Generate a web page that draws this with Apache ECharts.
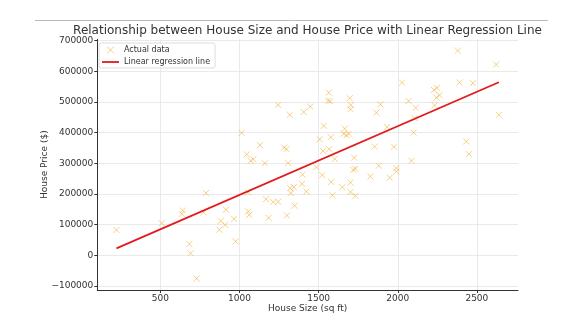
<!DOCTYPE html>
<html>
<head>
<meta charset="utf-8">
<script src="https://cdn.jsdelivr.net/npm/echarts@6/dist/echarts.min.js"></script>
<style>
html,body{margin:0;padding:0;background:#fff;}
#chart{width:584px;height:322px;}
</style>
</head>
<body>
<div id="chart"></div>
<script>
// House size (sq ft) of each actual data point
const sizes = [222, 508, 641, 635, 788, 773, 683, 691, 729, 914, 881, 872, 910, 965, 975,
  1053, 1055, 1061, 1167, 1184, 1213, 1244, 1299, 1320, 1343, 1324, 1348, 1395, 1398, 1423,
  1070, 1087, 1160, 1307, 1486, 1522, 1579, 1587, 1650, 1701, 1701, 1732, 1718, 1732, 1827,
  1880, 1949, 1991, 1991, 1013, 1244, 1318, 1406, 1447, 1564, 1560, 1572, 1697, 1703, 1701,
  1890, 1865, 1532, 1665, 1657, 1676, 1690, 1507, 1577, 1129, 1045, 1282, 1297, 1528, 1566,
  1602, 1724, 1854, 2380, 2622, 2639, 2433, 2450, 2027, 2391, 2475, 2229, 2248, 2244, 2264,
  2233, 2069, 2113, 2107, 1932, 2100, 1976, 2086];
// House price ($) of each actual data point
const prices = [82600, 105000, 146000, 135000, 203000, 140000, 37000, 6500, -75800, 148600, 112000, 83600, 98900, 119000, 45500,
  205000, 143000, 132000, 183000, 122000, 173600, 174600, 130000, 219000, 222000, 203000, 161600, 233000, 263000, 208000,
  308000, 313000, 300000, 300000, 287000, 261000, 239000, 196000, 222000, 237000, 206000, 194000, 279000, 282000, 257000,
  292000, 253000, 284000, 273000, 399000, 490000, 458000, 467000, 485000, 530000, 504000, 502000, 512000, 490000, 476000,
  492000, 465000, 422000, 413000, 396000, 392000, 396000, 378000, 385000, 359000, 329000, 351000, 346000, 340000, 346000,
  314000, 318000, 354000, 667000, 622000, 458000, 371000, 330000, 563000, 563000, 561000, 539000, 546000, 514000, 522000,
  489000, 503000, 481000, 447000, 418000, 400000, 354000, 308000];
// Regression line end points
const lineSizes = [222, 2639];
const linePrices = [22800, 564000];
// Tick labels
const xTicks = [500, 1000, 1500, 2000, 2500];
const yTicks = [-100000, 0, 100000, 200000, 300000, 400000, 500000, 600000, 700000];

const chart = echarts.init(document.getElementById('chart'), null, {renderer: 'canvas'});
const FONT = 'DejaVu Sans';
const TXT = '#333333';
const ORANGE = 'rgba(240,165,30,0.65)';
const RED = '#e31a1c';
const xMark = 'path://M0,0L10,10M10,0L0,10';
const fmt = v => (v < 0 ? '\u2212' + String(-v) : String(v));

const option = {
  backgroundColor: '#ffffff',
  animation: false,
  textStyle: {fontFamily: FONT},
  graphic: [
    {type: 'line', shape: {x1: 35, y1: 20.5, x2: 548, y2: 20.5}, style: {stroke: '#bbbbbb', lineWidth: 1}, silent: true},
    {type: 'text', x: 307.5, y: 25, style: {text: 'Relationship between House Size and House Price with Linear Regression Line',
      fill: TXT, font: '12px "DejaVu Sans"', textAlign: 'center', textVerticalAlign: 'top'}}
  ],
  legend: {
    left: 99, top: 43, orient: 'vertical',
    backgroundColor: 'rgba(255,255,255,0.85)', borderColor: '#dddddd', borderWidth: 1, borderRadius: 2,
    padding: [2, 5, 1, 3], itemGap: 2, itemWidth: 17, itemHeight: 7,
    textStyle: {fontFamily: FONT, fontSize: 8, color: TXT, lineHeight: 10},
    data: [
      {name: 'Actual data', icon: xMark, itemStyle: {color: 'transparent', borderColor: ORANGE, borderWidth: 1}},
      {name: 'Linear regression line', icon: 'path://M0,0H17V1.8H0Z', itemStyle: {color: RED, borderWidth: 0}}
    ]
  },
  grid: {left: 97.3, right: 66, top: 39.3, bottom: 32, containLabel: false},
  xAxis: {
    type: 'value', min: 101, max: 2760,
    name: 'House Size (sq ft)', nameLocation: 'middle', nameGap: 14, nameMoveOverlap: false,
    nameTextStyle: {fontFamily: FONT, fontSize: 9, color: TXT},
    axisLine: {show: true, onZero: false, lineStyle: {color: '#333333', width: 1}},
    axisTick: {show: true, length: 3, customValues: xTicks, lineStyle: {color: '#333333'}},
    axisLabel: {customValues: xTicks, formatter: fmt, fontFamily: FONT, fontSize: 9, color: TXT, margin: 4},
    splitLine: {show: true, lineStyle: {color: '#e5e5e5', width: 0.8}}
  },
  yAxis: {
    type: 'value', min: -113000, max: 704000,
    name: 'House Price ($)', nameLocation: 'middle', nameGap: 48, nameMoveOverlap: false,
    nameTextStyle: {fontFamily: FONT, fontSize: 9, color: TXT},
    axisLine: {show: true, onZero: false, lineStyle: {color: '#333333', width: 1}},
    axisTick: {show: true, length: 3, customValues: yTicks, lineStyle: {color: '#333333'}},
    axisLabel: {customValues: yTicks, formatter: fmt, fontFamily: FONT, fontSize: 9, color: TXT, margin: 4},
    splitLine: {show: true, lineStyle: {color: '#e5e5e5', width: 0.8}}
  },
  series: [
    {
      name: 'Actual data', type: 'scatter', symbol: xMark, symbolSize: 6,
      itemStyle: {color: 'transparent', borderColor: ORANGE, borderWidth: 1},
      data: sizes.map((s, i) => [s, prices[i]]), z: 2
    },
    {
      name: 'Linear regression line', type: 'line', symbol: 'none', showSymbol: false,
      lineStyle: {color: RED, width: 1.8}, itemStyle: {color: RED},
      data: lineSizes.map((s, i) => [s, linePrices[i]]), z: 3
    }
  ]
};
chart.setOption(option);
</script>
</body>
</html>
